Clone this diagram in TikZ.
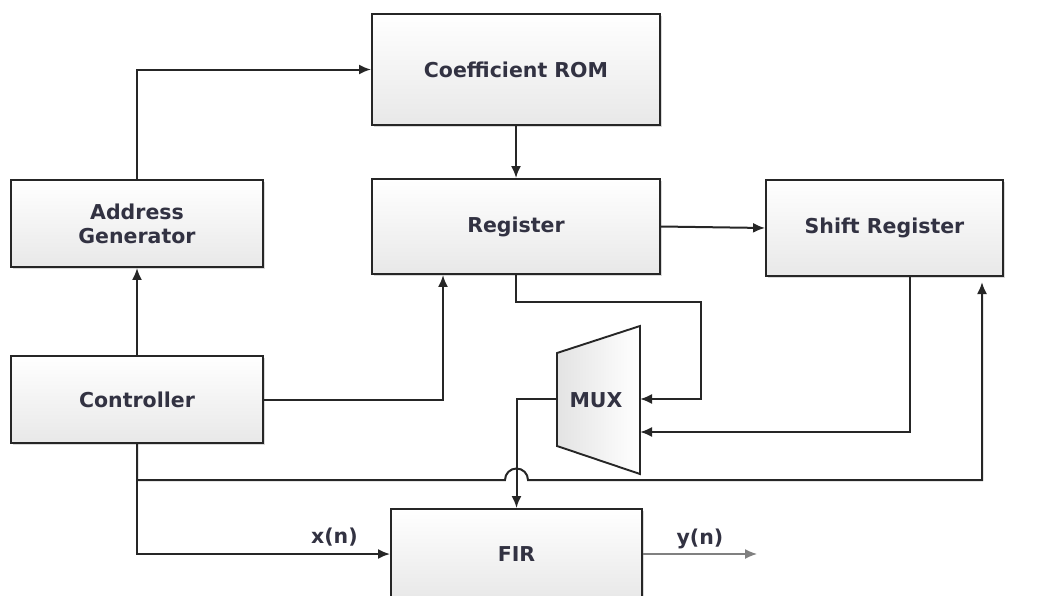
\documentclass[tikz,border=0pt]{standalone}
\usepackage{fontspec}
\setmainfont{DejaVu Sans}
\usetikzlibrary{arrows.meta,positioning,calc,shadows}
\usepackage{xcolor}
\tikzset{>={Latex[length=12pt,width=10pt]}}
\colorlet{wire}{black!85}
\colorlet{outgray}{black!50}
\definecolor{textdark}{RGB}{50,50,66}
\tikzstyle{block}=[draw=wire, line width=1.9pt, top color=white, bottom color=black!9, drop shadow={shadow xshift=1.5pt, shadow yshift=-1.5pt, opacity=0.25, fill=black!60}, text=textdark, font=\bfseries\fontsize{20.5}{24}\selectfont, align=center, inner sep=0pt]

\begin{document}
\begin{tikzpicture}[x=1pt, y=-1pt, wire/.style={draw=wire, line width=2pt}, lbl/.style={text=textdark, font=\bfseries\fontsize{20.5}{24}\selectfont}]
    \clip (0,0) rectangle (1042,595);

    % blocks
    \node[block, minimum width=288pt, minimum height=111pt] (rom) at (516,69.5) {Coefficient ROM};
    \node[block, minimum width=288pt, minimum height=95pt] (reg) at (516,226.5) {Register};
    \node[block, minimum width=237pt, minimum height=96pt] (shift) at (884.5,228) {Shift Register};
    \node[block, minimum width=252pt, minimum height=87pt] (addr) at (137,223.5) {Address\\Generator};
    \node[block, minimum width=252pt, minimum height=87pt] (ctrl) at (137,399.5) {Controller};
    \node[block, minimum width=251pt, minimum height=90pt] (fir) at (516.5,554) {FIR};

    % MUX
    \draw[wire, line width=1.9pt, left color=black!11, right color=white] (557,353) -- (640,326) -- (640,474) -- (557,446) -- cycle;
    \node[lbl] (mux) at (596,400) {MUX};
    \coordinate (mux out) at (557,399);
    \coordinate (mux in1) at (640,399);
    \coordinate (mux in2) at (640,432);
    \coordinate (shift in) at (982,282);
    \coordinate (y out) at (757,554);

    % connections
    \draw[wire, ->] (ctrl) -- (addr);
    \draw[wire, ->] (addr.north) |- (rom.west);
    \draw[wire, ->] (rom) -- (reg);
    \draw[wire, ->] (reg.east) -- (shift.west);
    \draw[wire, ->] (ctrl.east) -| ([xshift=-73pt]reg.south);
    \draw[wire, ->] (reg.south) |- (701,302) |- (mux in1);
    \draw[wire, ->] ([xshift=25.5pt]shift.south) |- (mux in2);
    \draw[wire, ->] (mux out) -| (fir.north);
    \draw[wire, ->] (ctrl.south) |- (505,480) arc[start angle=180, end angle=360, radius=11.5] -- (982,480) -- (shift in);
    \draw[wire, ->] (ctrl.south) |- node[lbl, pos=0.89, above=3pt] {x(n)} (fir.west);
    \draw[outgray, line width=1.4pt, ->] (fir.east) -- node[lbl, midway, above=1pt] {y(n)} (y out);
\end{tikzpicture}
\end{document}
